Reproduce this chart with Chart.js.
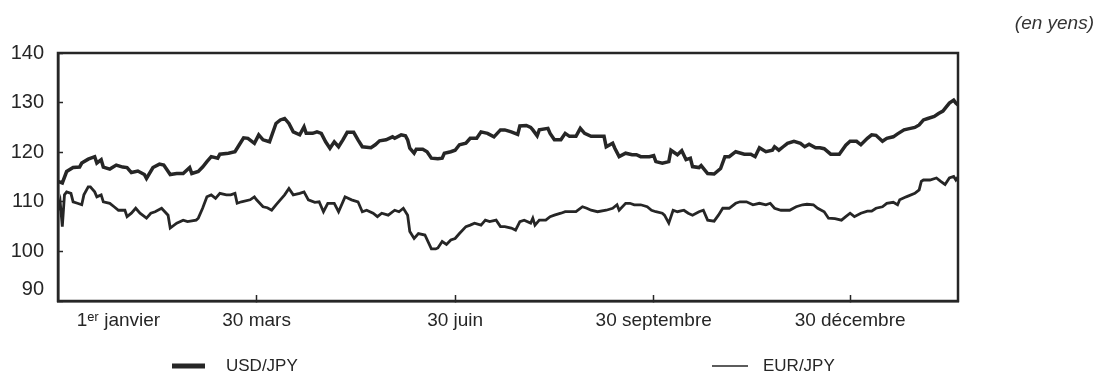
<!DOCTYPE html>
<html>
<head>
<meta charset="utf-8">
<script src="https://cdn.jsdelivr.net/npm/chart.js@4.4.0/dist/chart.umd.min.js"></script>
<style>
  html, body { margin: 0; padding: 0; background: #fff; }
  #wrap { width: 1108px; height: 378px; }
</style>
</head>
<body>
<div id="wrap"><canvas id="fx-chart" width="1108" height="378"></canvas></div>
<script>
// days counted from 1st January (0); x axis runs a little past mid-February of the next year
const usdDays = [-4,-2,0,3,6,7,10,13,14,16,17,20,23,26,28,30,33,36,37,40,43,45,48,51,54,57,58,61,63,65,67,70,71,75,78,80,82,84,87,89,91,94,97,
  99,101,103,105,108,110,111,114,116,118,120,122,124,126,128,130,133,135,137,141,143,145,148,151,152,155,157,158,159,161,162,165,167,169,172,174,175,178,180,182,185,187,190,192,195,198,201,
  203,206,209,210,213,215,216,218,219,223,224,226,229,231,233,236,238,240,243,246,249,250,253,254,256,259,262,264,266,270,272,273,276,279,280,282,283,285,287,289,290,293,294,297,300,303,305,307,
  310,314,317,319,321,324,327,328,330,332,334,337,340,342,344,347,349,351,354,357,358,361,363,366,368,371,373,375,378,380,383,385,388,391,393,395,397,399,402,404,406,409,411,412,413];
const usdJpy = [114.1,113.8,116.1,116.9,117.0,117.8,118.6,119.1,117.8,118.5,117.0,116.6,117.4,117.0,116.9,115.9,116.2,115.5,114.7,116.9,117.6,117.4,115.5,115.7,115.7,116.9,115.7,116.1,117.0,118.1,119.1,118.8,119.6,119.8,120.1,121.5,122.9,122.8,121.8,123.5,122.5,122.1,125.8,
  126.5,126.8,125.8,124.1,123.5,125.1,123.8,123.8,124.1,123.8,122.1,120.8,122.1,121.1,122.5,124.0,124.0,122.5,121.1,120.9,121.5,122.3,122.5,123.1,122.8,123.5,123.3,122.5,120.8,119.8,120.6,120.6,120.1,118.8,118.7,118.8,119.8,120.1,120.4,121.5,121.8,122.8,122.8,124.1,123.8,123.1,124.5,
  124.5,124.1,123.6,125.3,125.4,125.0,124.5,123.3,124.5,124.8,123.8,122.5,122.5,123.8,123.2,123.2,124.8,123.8,123.2,123.2,123.2,121.1,121.8,120.8,119.1,119.8,119.5,119.5,119.1,119.1,119.3,118.1,117.8,118.1,120.4,119.8,119.5,120.3,118.5,118.8,117.1,116.9,117.3,115.7,115.6,116.7,119.1,119.1,
  120.1,119.6,119.6,119.1,120.9,120.1,120.4,121.1,120.4,121.1,121.8,122.2,121.8,121.1,121.6,120.9,120.9,120.7,119.6,119.6,119.6,121.4,122.2,122.2,121.5,122.8,123.5,123.4,122.2,122.8,123.1,123.7,124.5,124.8,125.0,125.5,126.5,126.8,127.2,127.8,128.3,129.9,130.5,129.9,129.5];

const eurDays = [-4,-3,-2,-1,0,2,3,5,7,8,10,11,13,14,16,17,20,22,24,27,28,30,32,34,37,39,41,44,47,48,51,54,56,60,61,63,65,67,69,71,74,76,78,79,81,85,87,88,91,93,95,97,99,
  101,103,105,108,110,112,115,117,119,121,124,126,129,132,135,137,139,142,144,146,149,152,154,156,158,159,161,163,166,169,171,172,174,176,178,180,182,185,187,189,192,194,196,199,201,203,
  206,208,210,212,215,216,217,219,222,224,226,229,231,234,236,239,241,243,246,250,253,255,256,259,261,263,266,269,271,273,276,277,279,281,283,286,288,290,293,295,297,300,302,304,307,310,
  312,315,318,321,324,326,328,331,335,338,341,343,346,348,351,353,356,359,361,363,365,368,371,373,375,378,380,383,385,386,389,393,395,396,397,400,403,405,407,409,411,412,413];
const eurJpy = [108.3,110.0,105.0,111.4,112.0,111.7,110.0,109.7,109.4,111.4,113.0,113.0,112.0,111.0,111.4,110.0,109.7,109.0,108.3,108.3,107.0,107.7,108.7,107.7,106.7,107.7,108.0,108.7,107.3,104.7,105.7,106.3,106.0,106.3,106.7,108.7,111.0,111.4,110.7,111.7,111.4,111.4,111.7,109.7,110.0,110.4,111.0,110.4,109.0,108.8,108.3,109.4,110.4,
  111.4,112.7,111.4,111.7,112.0,110.4,109.9,110.0,108.0,109.7,109.7,108.0,111.0,110.4,110.0,108.0,108.3,107.7,107.0,107.7,107.3,108.3,108.0,108.7,107.3,104.0,102.6,103.6,103.3,100.5,100.5,100.7,102.0,101.4,102.3,102.6,103.6,105.0,105.3,105.7,105.3,106.3,106.0,106.3,105.0,105.0,
  104.7,104.3,106.0,106.3,105.7,106.7,105.3,106.3,106.3,107.0,107.3,107.7,108.0,108.0,108.0,109.0,108.7,108.3,108.0,108.3,108.7,109.4,108.3,109.7,109.7,109.4,109.4,109.0,108.3,108.0,107.7,107.3,105.7,108.3,108.0,108.3,107.7,107.3,108.0,108.3,106.3,106.1,107.3,108.7,108.7,109.7,
  110.0,110.0,109.4,109.7,109.4,109.7,108.7,108.3,108.3,109.0,109.4,109.5,109.4,108.7,108.0,106.7,106.6,106.3,107.0,107.7,107.0,107.7,108.1,108.1,108.7,109.0,109.7,109.9,109.4,110.4,111.0,111.7,112.4,114.1,114.4,114.4,114.8,114.1,113.5,114.8,115.1,114.4,115.0];

const seriesNames = ['USD/JPY', 'EUR/JPY'];
const labelDays = [24, 88, 180, 272, 363];
const labelTexts = ['1ᵉʳ janvier', '30 mars', '30 juin', '30 septembre', '30 décembre'];
const yTicks = [90, 100, 110, 120, 130, 140];
const unitText = '(en yens)';

const ink = '#262626';
const fontFamily = "'Liberation Sans', Arial, sans-serif";

function toPoints(days, values) {
    return days.map(function (d, i) { return { x: d, y: values[i] }; });
}

// box around the plot, the legend under the axis and the unit in the corner
const decorations = {
    id: 'decorations',
    afterDraw: function (chart) {
        const ctx = chart.ctx;
        const a = chart.chartArea;
        ctx.save();
        ctx.strokeStyle = ink;
        ctx.lineWidth = 2.5;
        ctx.strokeRect(a.left, a.top, a.right - a.left, a.bottom - a.top);

        const legendSpots = [
            { x1: 172, x2: 205, tx: 226, width: 5 },
            { x1: 712, x2: 748, tx: 763, width: 1.5 }
        ];
        ctx.font = '17px ' + fontFamily;
        ctx.textBaseline = 'middle';
        ctx.textAlign = 'left';
        chart.data.datasets.forEach(function (ds, i) {
            const s = legendSpots[i];
            ctx.beginPath();
            ctx.lineWidth = s.width;
            ctx.strokeStyle = ds.borderColor;
            ctx.moveTo(s.x1, 366);
            ctx.lineTo(s.x2, 366);
            ctx.stroke();
            ctx.fillStyle = ink;
            ctx.fillText(ds.label, s.tx, 366);
        });

        ctx.font = 'italic 19px ' + fontFamily;
        ctx.textAlign = 'right';
        ctx.fillStyle = '#333';
        ctx.fillText(unitText, 1094, 24);
        ctx.restore();
    }
};

const ctx = document.getElementById('fx-chart').getContext('2d');
new Chart(ctx, {
    type: 'line',
    data: {
        datasets: [{
            label: seriesNames[0],
            data: toPoints(usdDays, usdJpy),
            borderColor: ink,
            borderWidth: 3.5,
            pointRadius: 0,
            tension: 0,
            fill: false
        }, {
            label: seriesNames[1],
            data: toPoints(eurDays, eurJpy),
            borderColor: ink,
            borderWidth: 2.8,
            pointRadius: 0,
            tension: 0,
            fill: false
        }]
    },
    options: {
        responsive: false,
        animation: false,
        layout: { padding: { left: 0, top: 53, right: 150, bottom: 37 } },
        plugins: {
            legend: { display: false },
            tooltip: { enabled: false }
        },
        scales: {
            x: {
                type: 'linear',
                min: -4,
                max: 413,
                afterBuildTicks: function (scale) {
                    scale.ticks = labelDays.map(function (d) { return { value: d }; });
                },
                afterFit: function (scale) { scale.height = 40; },
                border: { display: true, color: ink, width: 2.5 },
                grid: {
                    drawOnChartArea: false,
                    drawTicks: true,
                    tickLength: -6,
                    tickWidth: 1.5,
                    tickColor: function (c) { return c.index === 0 ? 'rgba(0,0,0,0)' : ink; }
                },
                ticks: {
                    autoSkip: false,
                    maxRotation: 0,
                    padding: 14,
                    color: ink,
                    font: { family: fontFamily, size: 19 },
                    callback: function (value) {
                        const i = labelDays.indexOf(value);
                        return i >= 0 ? labelTexts[i] : '';
                    }
                }
            },
            y: {
                min: 90,
                max: 140,
                afterBuildTicks: function (scale) {
                    scale.ticks = yTicks.map(function (v) { return { value: v }; });
                },
                afterFit: function (scale) { scale.width = 58; },
                border: { display: true, color: ink, width: 2.5 },
                grid: {
                    drawOnChartArea: false,
                    drawTicks: true,
                    tickLength: -5,
                    tickWidth: 1.5,
                    tickColor: ink
                },
                ticks: {
                    autoSkip: false,
                    padding: 19,
                    color: ink,
                    font: { family: fontFamily, size: 20 },
                    callback: function (value) {
                        return value === 90 ? ['90', ''] : String(value);
                    }
                }
            }
        }
    },
    plugins: [decorations]
});
</script>
</body>
</html>
